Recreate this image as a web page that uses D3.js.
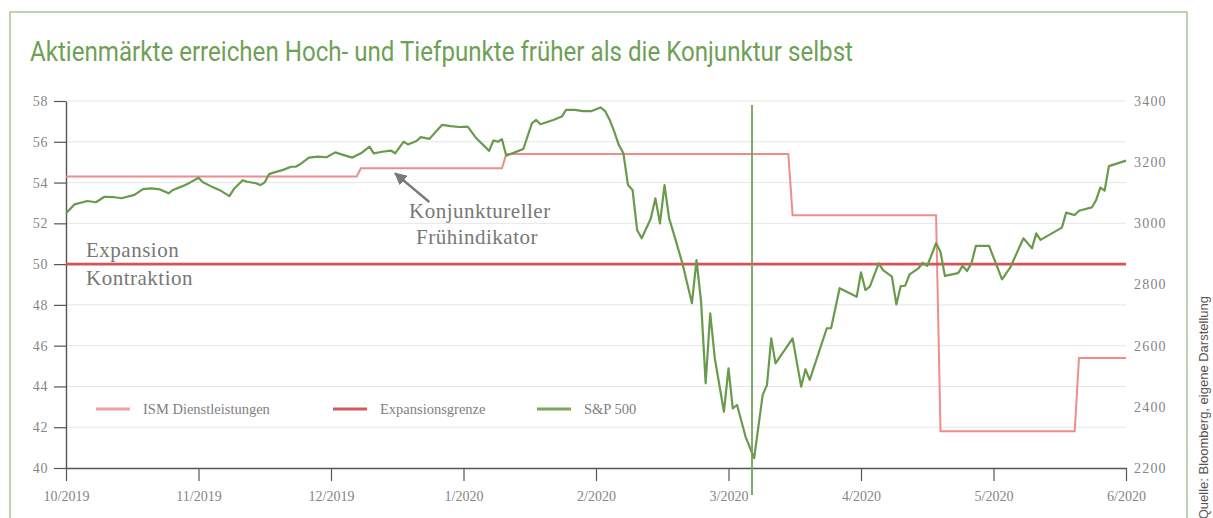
<!DOCTYPE html>
<html>
<head>
<meta charset="utf-8">
<script src="https://cdn.jsdelivr.net/npm/d3@7"></script>
<style>
  body { margin: 0; background: #fff; }
  svg { display: block; }
</style>
</head>
<body>
<div id="chart"></div>
<script>
// S&P 500 (right axis)
const spDates = [
  "2019-10-01","2019-10-03","2019-10-06","2019-10-08","2019-10-10","2019-10-12","2019-10-14","2019-10-17",
  "2019-10-19","2019-10-21","2019-10-23","2019-10-25","2019-10-26","2019-10-28","2019-10-30","2019-11-01",
  "2019-11-02","2019-11-04","2019-11-06","2019-11-08","2019-11-09","2019-11-11","2019-11-12","2019-11-14",
  "2019-11-15","2019-11-16","2019-11-17","2019-11-18","2019-11-20","2019-11-22","2019-11-23","2019-11-24",
  "2019-11-26","2019-11-28","2019-11-30","2019-12-02","2019-12-04","2019-12-06","2019-12-08","2019-12-10",
  "2019-12-11","2019-12-13","2019-12-15","2019-12-16","2019-12-18","2019-12-19","2019-12-21","2019-12-22",
  "2019-12-24","2019-12-25","2019-12-27","2019-12-29","2019-12-31","2020-01-02","2020-01-04","2020-01-07",
  "2020-01-08","2020-01-09","2020-01-10","2020-01-11","2020-01-13","2020-01-15","2020-01-17","2020-01-18",
  "2020-01-19","2020-01-22","2020-01-24","2020-01-25","2020-01-27","2020-01-29","2020-01-31","2020-02-02",
  "2020-02-03","2020-02-04","2020-02-05","2020-02-06","2020-02-07","2020-02-08","2020-02-09","2020-02-10",
  "2020-02-11","2020-02-13","2020-02-14","2020-02-15","2020-02-16","2020-02-17","2020-02-18","2020-02-20",
  "2020-02-22","2020-02-23","2020-02-24","2020-02-25","2020-02-26","2020-02-27","2020-02-29","2020-03-01",
  "2020-03-02","2020-03-03","2020-03-05","2020-03-07","2020-03-09","2020-03-10","2020-03-11","2020-03-12",
  "2020-03-16","2020-03-18","2020-03-19","2020-03-20","2020-03-24","2020-03-25","2020-03-27","2020-03-31",
  "2020-04-01","2020-04-02","2020-04-03","2020-04-05","2020-04-06","2020-04-08","2020-04-09","2020-04-10",
  "2020-04-11","2020-04-12","2020-04-14","2020-04-15","2020-04-16","2020-04-18","2020-04-19","2020-04-20",
  "2020-04-23","2020-04-24","2020-04-25","2020-04-26","2020-04-27","2020-04-30","2020-05-03","2020-05-05",
  "2020-05-08","2020-05-10","2020-05-11","2020-05-12","2020-05-17","2020-05-18","2020-05-20","2020-05-21",
  "2020-05-24","2020-05-25","2020-05-26","2020-05-27","2020-05-28","2020-06-01"
];
const spValues = [
  3033,3062,3073,3069,3087,3086,3082,3093,
  3112,3114,3111,3098,3109,3120,3133,3149,
  3134,3120,3107,3089,3112,3141,3136,3131,
  3125,3134,3161,3166,3174,3185,3185,3193,
  3215,3218,3216,3232,3223,3215,3229,3251,
  3229,3234,3238,3229,3267,3258,3269,3282,
  3276,3291,3322,3318,3315,3316,3278,3237,
  3271,3267,3275,3221,3232,3243,3327,3338,
  3324,3338,3349,3371,3371,3367,3367,3379,
  3367,3338,3300,3256,3229,3125,3109,2978,
  2951,3016,3082,3000,3125,3016,2967,2864,
  2739,2880,2744,2477,2706,2559,2384,2526,
  2395,2406,2302,2232,2439,2471,2624,2542,
  2624,2466,2523,2488,2657,2657,2788,2760,
  2840,2782,2793,2869,2847,2826,2735,2795,
  2796,2833,2853,2871,2861,2935,2907,2828,
  2837,2861,2844,2869,2926,2926,2817,2858,
  2951,2918,2967,2946,2986,3035,3027,3041,
  3052,3076,3117,3107,3187,3205
];

// ISM Dienstleistungen (left axis): date from which each level applies
const ismDates = ["2019-10-01","2019-12-08","2020-01-11","2020-03-16","2020-04-19","2020-05-21"];
const ismValues = [54.3, 54.7, 55.4, 52.4, 41.8, 45.4];
const ismEnd = "2020-06-01";

const expansionLevel = 50;
const markerDate = "2020-03-06T12:00";

const monthTicks = ["2019-10-01","2019-11-01","2019-12-01","2020-01-01","2020-02-01",
                    "2020-03-01","2020-04-01","2020-05-01","2020-06-01"];
const monthLabels = ["10/2019","11/2019","12/2019","1/2020","2/2020","3/2020","4/2020","5/2020","6/2020"];
const leftTicks = [40, 42, 44, 46, 48, 50, 52, 54, 56, 58];
const rightTicks = [2200, 2400, 2600, 2800, 3000, 3200, 3400];
const legendLabels = ["ISM Dienstleistungen", "Expansionsgrenze", "S&P 500"];

const W = 1213, H = 518;
const plot = {left: 66, right: 1126, top: 101, bottom: 468};

const green = "#6a9a4c", ismRed = "#ef8c8c", lineRed = "#d8525a";
const serif = "'Liberation Serif', 'Times New Roman', serif";

const parse = d3.isoParse;
const svg = d3.select("#chart").append("svg")
  .attr("width", W).attr("height", H);

// frame
svg.append("rect")
  .attr("x", 10).attr("y", 12).attr("width", 1177).attr("height", 540)
  .attr("fill", "none").attr("stroke", "#a9c497").attr("stroke-width", 1.5);

svg.append("text")
  .attr("x", 30).attr("y", 61)
  .style("font-family", "'Liberation Sans Narrow', 'Roboto', 'Liberation Sans', sans-serif")
  .style("font-size", "27px")
  .attr("textLength", 823).attr("lengthAdjust", "spacingAndGlyphs")
  .attr("fill", "#6ea055")
  .text("Aktienmärkte erreichen Hoch- und Tiefpunkte früher als die Konjunktur selbst");

// scales: months equally spaced like the original
const monthDates = monthTicks.map(parse);
const step = (plot.right - plot.left) / (monthDates.length - 1);
const x = d3.scaleTime()
  .domain(monthDates)
  .range(monthDates.map((d, i) => plot.left + i * step));
const yL = d3.scaleLinear().domain([40, 58]).range([plot.bottom, plot.top]);
const yR = d3.scaleLinear().domain([2200, 3400]).range([plot.bottom, plot.top]);

// grid
svg.append("g").selectAll("line")
  .data(leftTicks.filter(d => d > 40))
  .join("line")
  .attr("x1", plot.left).attr("x2", plot.right)
  .attr("y1", d => yL(d)).attr("y2", d => yL(d))
  .attr("stroke", "#e6e6e6").attr("stroke-width", 1);

// axes
const axisColor = "#555", labelColor = "#858585";

const gL = svg.append("g").attr("transform", `translate(${plot.left},0)`)
  .call(d3.axisLeft(yL).tickValues(leftTicks).tickSize(12).tickSizeOuter(0).tickPadding(6)
    .tickFormat(d3.format("d")));
const gR = svg.append("g").attr("transform", `translate(${plot.right},0)`)
  .call(d3.axisRight(yR).tickValues(rightTicks).tickSize(0).tickPadding(8)
    .tickFormat(d3.format("d")));
gR.select(".domain").remove();
const gB = svg.append("g").attr("transform", `translate(0,${plot.bottom})`)
  .call(d3.axisBottom(x).tickValues(monthDates).tickSize(13).tickSizeOuter(0).tickPadding(10)
    .tickFormat((d, i) => monthLabels[i]));

[gL, gR, gB].forEach(g => {
  g.attr("font-family", null).attr("font-size", null);
  g.selectAll(".domain").attr("stroke", axisColor).attr("stroke-width", 1.4);
  g.selectAll(".tick line").attr("stroke", axisColor).attr("stroke-width", 1.2);
  g.selectAll("text").attr("fill", labelColor).style("font-family", serif);
});
gL.selectAll("text").style("font-size", "14px").style("letter-spacing", "0.6px");
gR.selectAll("text").style("font-size", "14px").style("letter-spacing", "1.2px");
gB.selectAll("text").style("font-size", "14px");

// ISM step series
const ismPts = [];
ismDates.forEach((d, i) => {
  const start = parse(d);
  const end = i < ismDates.length - 1 ? d3.timeDay.offset(parse(ismDates[i + 1]), -1) : parse(ismEnd);
  ismPts.push([start, ismValues[i]], [end, ismValues[i]]);
});
svg.append("path")
  .datum(ismPts)
  .attr("fill", "none").attr("stroke", ismRed).attr("stroke-width", 2)
  .attr("d", d3.line().x(d => x(d[0])).y(d => yL(d[1])));

// expansion boundary
svg.append("line")
  .attr("x1", plot.left).attr("x2", plot.right)
  .attr("y1", yL(expansionLevel)).attr("y2", yL(expansionLevel))
  .attr("stroke", lineRed).attr("stroke-width", 2.6);

// S&P 500
const sp = spDates.map((d, i) => ({date: parse(d), value: spValues[i]}));
svg.append("path")
  .datum(sp)
  .attr("fill", "none").attr("stroke", green).attr("stroke-width", 2.2)
  .attr("stroke-linejoin", "round")
  .attr("d", d3.line().x(d => x(d.date)).y(d => yR(d.value)));

// vertical marker at the market trough
svg.append("line")
  .attr("x1", x(parse(markerDate))).attr("x2", x(parse(markerDate)))
  .attr("y1", yL(57.8)).attr("y2", plot.bottom + 27)
  .attr("stroke", "#72a456").attr("stroke-width", 1.8);

// annotations
const noteColor = "#777";
const note = (txt, tx, ty) => svg.append("text")
  .attr("x", tx).attr("y", ty)
  .style("font-family", serif).style("font-size", "21px").style("letter-spacing", "0.5px")
  .attr("fill", noteColor).text(txt);
note("Expansion", 86, 257);
note("Kontraktion", 86, 285);
note("Konjunktureller", 409, 218);
note("Frühindikator", 416, 244);

svg.append("defs").append("marker")
  .attr("id", "arrow").attr("viewBox", "0 0 10 10")
  .attr("refX", 9).attr("refY", 5)
  .attr("markerWidth", 5).attr("markerHeight", 5)
  .attr("orient", "auto")
  .append("path").attr("d", "M0,0 L10,5 L0,10 Z").attr("fill", "#7a7a7a");
svg.append("line")
  .attr("x1", x(parse("2019-12-24"))).attr("y1", yL(53.05))
  .attr("x2", x(parse("2019-12-16"))).attr("y2", yL(54.45))
  .attr("stroke", "#7a7a7a").attr("stroke-width", 2.5)
  .attr("marker-end", "url(#arrow)");

// legend
const legendColors = ["#f2a0a0", "#cf5a62", "#79a85b"];
const legendX = [96, 333, 537];
const lg = svg.append("g").selectAll("g")
  .data(legendLabels)
  .join("g")
  .attr("transform", (d, i) => `translate(${legendX[i]},409)`);
lg.append("line")
  .attr("x1", 0).attr("x2", 34)
  .attr("stroke", (d, i) => legendColors[i]).attr("stroke-width", 3);
lg.append("text")
  .attr("x", 47).attr("dy", "0.35em")
  .style("font-family", serif).style("font-size", "14.5px")
  .attr("fill", "#808080")
  .text(d => d);

// source
svg.append("text")
  .attr("transform", "translate(1208,296) rotate(-90)")
  .attr("text-anchor", "end")
  .style("font-family", "'Liberation Sans', Arial, sans-serif")
  .style("font-size", "13px")
  .attr("fill", "#555")
  .text("Quelle: Bloomberg, eigene Darstellung");
</script>
</body>
</html>
